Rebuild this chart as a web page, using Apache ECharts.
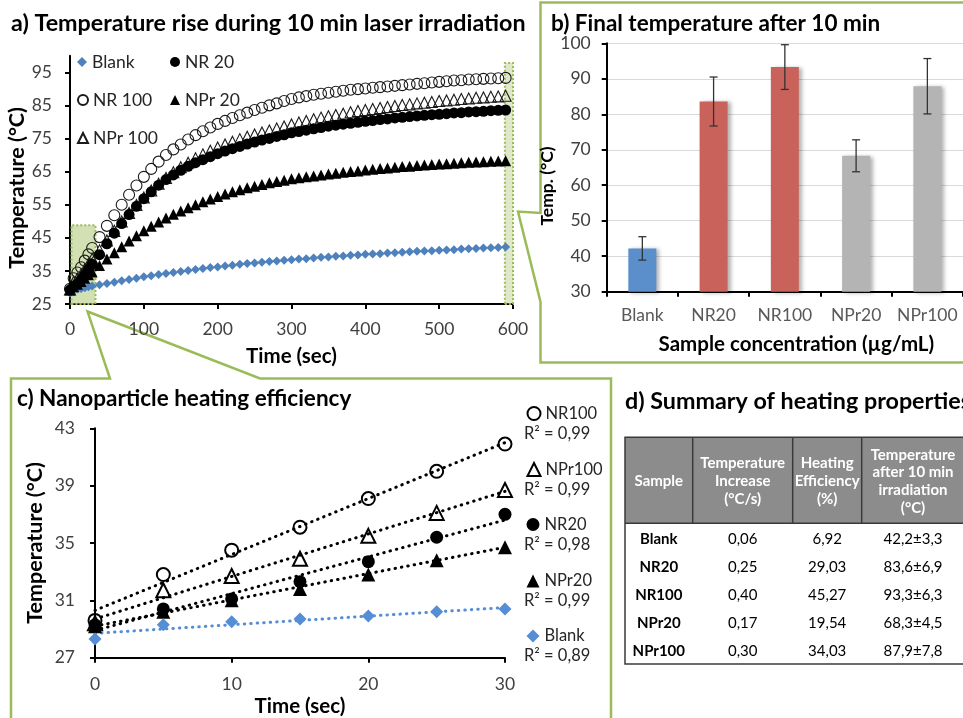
<!DOCTYPE html>
<html><head><meta charset="utf-8">
<script src="https://cdn.jsdelivr.net/npm/echarts@6/dist/echarts.min.js"></script>
<style>html,body{margin:0;padding:0;background:#fff}#c{width:963px;height:718px}</style>
</head><body><div id="c"></div>
<script>
// ---------- Panel a: temperature rise (sec, °C) ----------
const timeA = [0,5,10,15,20,25,30,40,50,60,70,80,90,100,110,120,130,140,150,160,170,180,190,200,210,220,230,240,250,260,270,280,290,300,310,320,330,340,350,360,370,380,390,400,410,420,430,440,450,460,470,480,490,500,510,520,530,540,550,560,570,580,590];
const blankA = [28.3,29.3,29.5,29.7,29.9,30.2,30.4,30.8,31.2,31.6,32.0,32.4,32.8,33.2,33.5,33.9,34.2,34.5,34.8,35.1,35.4,35.7,36.0,36.2,36.5,36.7,37.0,37.2,37.4,37.6,37.8,38.0,38.2,38.4,38.6,38.7,38.9,39.1,39.2,39.4,39.5,39.7,39.8,40.0,40.1,40.2,40.4,40.5,40.6,40.8,40.9,41.0,41.1,41.2,41.3,41.4,41.6,41.7,41.8,41.9,42.0,42.1,42.2];
const nr20A = [29.3,30.4,31.1,32.3,33.7,35.4,37.0,39.9,43.2,46.4,49.3,52.0,54.5,56.8,58.9,60.9,62.6,64.0,65.4,66.6,67.7,68.6,69.5,70.4,71.2,71.9,72.6,73.3,73.9,74.5,75.0,75.6,76.1,76.7,77.1,77.5,77.9,78.3,78.7,79.0,79.3,79.6,79.9,80.2,80.4,80.7,80.9,81.2,81.4,81.6,81.8,82.0,82.2,82.3,82.5,82.7,82.8,83.0,83.1,83.2,83.4,83.5,83.6];
const nr100A = [29.6,32.8,34.5,36.1,38.1,40.0,41.9,45.2,48.6,51.8,55.0,58.0,60.8,63.4,65.8,68.0,70.0,71.7,73.2,74.7,76.0,77.2,78.3,79.4,80.3,81.2,82.0,82.8,83.6,84.3,85.0,85.6,86.3,86.9,87.4,87.8,88.2,88.5,88.8,89.1,89.4,89.7,89.9,90.1,90.3,90.5,90.7,90.9,91.1,91.3,91.5,91.7,91.9,92.1,92.3,92.5,92.6,92.8,92.9,93.0,93.1,93.2,93.3];
const npr20A = [29.2,30.2,31.0,31.8,32.8,33.8,34.7,36.6,38.6,40.5,42.3,44.0,45.6,47.1,48.5,49.8,51.0,52.1,53.1,54.1,55.0,55.9,56.7,57.5,58.2,58.9,59.5,60.1,60.6,61.1,61.6,62.0,62.4,62.8,63.1,63.4,63.7,64.0,64.3,64.5,64.8,65.0,65.2,65.5,65.7,65.9,66.1,66.3,66.5,66.6,66.8,67.0,67.1,67.3,67.4,67.5,67.7,67.8,67.9,68.0,68.1,68.2,68.3];
const npr100A = [29.4,31.7,32.7,33.9,35.5,37.1,38.7,41.2,44.2,47.1,49.9,52.5,54.9,57.2,59.3,61.3,63.1,64.8,66.3,67.7,69.0,70.2,71.3,72.3,73.2,74.0,74.8,75.5,76.2,76.8,77.4,78.0,78.6,79.2,79.8,80.3,80.8,81.3,81.7,82.1,82.5,82.9,83.3,83.6,83.9,84.2,84.5,84.8,85.1,85.3,85.6,85.8,86.0,86.3,86.5,86.7,86.9,87.1,87.3,87.4,87.6,87.7,87.9];
const yTicksA = [25,35,45,55,65,75,85,95];

// ---------- Panel b: final temperature ----------
const samples = ['Blank','NR20','NR100','NPr20','NPr100'];
const finalTemp = [42.2,83.6,93.3,68.3,87.9];
const finalErr = [3.3,6.9,6.3,4.5,7.8];

// ---------- Panel c: first 30 s ----------
const timeC = [0,5,10,15,20,25,30];
const nr100C = [29.6,32.8,34.5,36.1,38.1,40.0,41.9];
const npr100C = [29.4,31.7,32.7,33.9,35.5,37.1,38.7];
const nr20C = [29.3,30.4,31.1,32.3,33.7,35.4,37.0];
const npr20C = [29.2,30.2,31.0,31.8,32.8,33.8,34.7];
const blankC = [28.3,29.3,29.5,29.7,29.9,30.2,30.4];
const trendNamesC = ['NR100','NPr100','NR20','NPr20','Blank'];
const trendStartC = [30.3,29.7,28.9,29.2,28.7];
const trendEndC = [42.0,38.6,36.6,34.7,30.5];
const r2C = ['0,99','0,99','0,98','0,99','0,89'];
const yTicksC = [27,31,35,39,43];

// ---------- Panel d: table ----------
const tableHeaders = ['Sample','Temperature\nIncrease\n(°C/s)','Heating\nEfficiency\n(%)','Temperature\nafter 10 min\nirradiation\n(°C)'];
const tableIncrease = ['0,06','0,25','0,40','0,17','0,30'];
const tableEfficiency = ['6,92','29,03','45,27','19,54','34,03'];

// ================= styling / layout =================
const FONT = 'Lato, "Noto Sans", sans-serif';
const GREEN = '#9bbb59';
const LBL = '#404040';
const chart = echarts.init(document.getElementById('c'), null, {renderer:'canvas', width:963, height:718});
const pairs = (xs, ys) => xs.map((x, i) => [x, ys[i]]);
const fmt = v => v.toFixed(1).replace('.', ',');

const axisLineStyle = {show:true, onZero:false, lineStyle:{color:'#000', width:2}};
const tickStyle = {show:true, length:5, lineStyle:{color:'#000', width:2}};
const nameStyleX = {fontSize:20.5, fontWeight:'bold', color:'#000', fontFamily:FONT};
const nameStyleY = {fontSize:21.5, fontWeight:'bold', color:'#000', fontFamily:FONT};
const labelStyle = {fontSize:17.5, color:LBL, fontFamily:FONT};

const open = {color:'rgba(0,0,0,0)', borderColor:'#1a1a1a', borderWidth:1.1, opacity:1};
const openC = {color:'rgba(0,0,0,0)', borderColor:'#000', borderWidth:2, opacity:1};

const aDefs = [
  {name:'Blank', d:blankA, sym:'diamond', size:9, style:{color:'#4f81bd', opacity:1}},
  {name:'NR 100', d:nr100A, sym:'circle', size:11, style:open},
  {name:'NPr 100', d:npr100A, sym:'triangle', size:11, style:open},
  {name:'NPr 20', d:npr20A, sym:'triangle', size:11, style:{color:'#000', opacity:1}},
  {name:'NR 20', d:nr20A, sym:'circle', size:11, style:{color:'#000', opacity:1}}
];
const cDefs = [
  {name:'c:NR100', d:nr100C, sym:'circle', size:13, style:openC},
  {name:'c:NPr100', d:npr100C, sym:'triangle', size:14, style:openC},
  {name:'c:NR20', d:nr20C, sym:'circle', size:13, style:{color:'#000', opacity:1}},
  {name:'c:NPr20', d:npr20C, sym:'triangle', size:14, style:{color:'#000', opacity:1}},
  {name:'c:Blank', d:blankC, sym:'diamond', size:13, style:{color:'#558ed5', opacity:1}}
];

const series = [];
aDefs.forEach(s => series.push({
  type:'scatter', name:s.name, xAxisIndex:0, yAxisIndex:0, data:pairs(timeA, s.d),
  symbol:s.sym, symbolSize:s.size, itemStyle:s.style, clip:false, silent:true
}));
// highlighted regions in panel a
series.push({
  type:'line', xAxisIndex:0, yAxisIndex:0, data:[], z:10, silent:true,
  markArea:{silent:true, itemStyle:{color:'rgba(155,187,89,0.45)', borderColor:GREEN, borderWidth:2, borderType:'dotted'},
    data:[
      [{coord:[2, 25]}, {coord:[34.5, 48.8]}],
      [{coord:[589, 25], itemStyle:{color:'rgba(155,187,89,0.32)'}}, {coord:[603, 97.8]}]
    ]}
});
// panel b bars
const barColors = ['#5b8fcb','#c9625b','#c9625b','#b4b4b4','#b4b4b4'];
series.push({
  type:'bar', xAxisIndex:1, yAxisIndex:1, barWidth:28, silent:true,
  data: finalTemp.map((v, i) => ({value:v, itemStyle:{color:barColors[i], shadowColor:'rgba(0,0,0,0.3)', shadowBlur:4, shadowOffsetX:3, shadowOffsetY:1}}))
});
series.push({
  type:'custom', xAxisIndex:1, yAxisIndex:1, silent:true, z:5,
  data: finalTemp.map((v, i) => [i, v - finalErr[i], v + finalErr[i]]),
  renderItem: (params, api) => {
    const lo = api.coord([api.value(0), api.value(1)]);
    const hi = api.coord([api.value(0), api.value(2)]);
    const st = {stroke:'#333', lineWidth:1.3};
    const w = 4;
    return {type:'group', children:[
      {type:'line', shape:{x1:lo[0], y1:lo[1], x2:hi[0], y2:hi[1]}, style:st},
      {type:'line', shape:{x1:lo[0]-w, y1:lo[1], x2:lo[0]+w, y2:lo[1]}, style:st},
      {type:'line', shape:{x1:hi[0]-w, y1:hi[1], x2:hi[0]+w, y2:hi[1]}, style:st}
    ]};
  }
});
// panel c trend lines (dotted)
trendNamesC.forEach((n, i) => series.push({
  type:'line', xAxisIndex:2, yAxisIndex:2, silent:true, symbol:'none', z:1,
  data:[[timeC[0], trendStartC[i]], [timeC[timeC.length-1], trendEndC[i]]],
  lineStyle:{color: n === 'Blank' ? '#558ed5' : '#000', width:3, type:[0.5, 6], cap:'round'}
}));
cDefs.forEach(s => series.push({
  type:'scatter', name:s.name, xAxisIndex:2, yAxisIndex:2, data:pairs(timeC, s.d),
  symbol:s.sym, symbolSize:s.size, itemStyle:s.style, clip:false, silent:true, z:3
}));

// legends
const legendOf = (name, left, cy, size, fs) => ({
  data:[name], left, top:cy - 10, padding:0, itemGap:0, itemWidth:size, itemHeight:size,
  selectedMode:false, formatter: n => n.replace('c:', ''),
  textStyle:{fontSize:fs, color:'#262626', fontFamily:FONT}
});
const legends = [
  legendOf('Blank', 77, 63, 10, 17.5), legendOf('NR 20', 170, 63, 10, 17.5),
  legendOf('NR 100', 77, 101, 10, 17.5), legendOf('NPr 20', 170, 101, 10, 17.5),
  legendOf('NPr 100', 77, 139, 10, 17.5)
];
const legendYC = [415, 471, 526, 582.5, 637.5];
cDefs.forEach((s, i) => legends.push(legendOf(s.name, 526.5, legendYC[i], 13, 16.5)));

// graphics: frames, R² labels, table
const graphics = [];
graphics.push({type:'polyline', silent:true, shape:{points:[[966,2.5],[540.5,2.5],[540.5,213],[518,211.5],[540.5,302],[540.5,362.5],[966,362.5]]}, style:{stroke:GREEN, lineWidth:2.5, fill:null}});
graphics.push({type:'polyline', silent:true, shape:{points:[[11,720],[11,378.5],[110,378.5],[87.5,311.5],[260,378.5],[611,378.5],[611,720]]}, style:{stroke:GREEN, lineWidth:2.5, fill:null}});
legendYC.forEach((y, i) => graphics.push({type:'text', silent:true, x:524, y:y + 18.5, style:{text:'R² = ' + r2C[i], fontSize:16.5, fontFamily:FONT, fill:'#262626', verticalAlign:'middle'}}));

const colX = [625, 692.7, 792.7, 861.7, 965];
const colC = [658.8, 742.7, 827.2, 913];
const rowY = [539.3, 567.3, 595, 623.3, 650.7];
const tTop = 437.3, tHead = 523.3, tBot = 664;
graphics.push({type:'rect', silent:true, shape:{x:colX[0], y:tTop, width:colX[4]-colX[0], height:tHead-tTop}, style:{fill:'#8c8c8c'}});
for (let k = 1; k < 4; k++) graphics.push({type:'line', silent:true, shape:{x1:colX[k], y1:tTop, x2:colX[k], y2:tHead}, style:{stroke:'#3a3a3a', lineWidth:1.5}});
graphics.push({type:'line', silent:true, shape:{x1:colX[0], y1:tHead, x2:colX[4], y2:tHead}, style:{stroke:'#3a3a3a', lineWidth:1.5}});
graphics.push({type:'rect', silent:true, shape:{x:colX[0], y:tTop, width:colX[4]-colX[0], height:tBot-tTop}, style:{fill:null, stroke:'#3a3a3a', lineWidth:1.5}});
tableHeaders.forEach((h, k) => graphics.push({type:'text', silent:true, x:colC[k], y:(tTop+tHead)/2 + 1, style:{text:h, fontSize:15, fontWeight:'bold', fontFamily:FONT, fill:'#fff', align:'center', verticalAlign:'middle', lineHeight:17.7}}));
samples.forEach((s, r) => {
  const cells = [s, tableIncrease[r], tableEfficiency[r], fmt(finalTemp[r]) + '±' + fmt(finalErr[r])];
  cells.forEach((t, k) => graphics.push({type:'text', silent:true, x:colC[k], y:rowY[r], style:{text:t, fontSize:15, fontWeight:k === 0 ? 'bold' : 'normal', fontFamily:FONT, fill:'#000', align:'center', verticalAlign:'middle'}}));
});

const titleStyle = {fontSize:22.5, fontWeight:'bold', color:'#000', fontFamily:FONT};
const option = {
  animation:false,
  backgroundColor:'#fff',
  title:[
    {text:'a) Temperature rise during 10 min laser irradiation', left:11, top:12, padding:0, textStyle:Object.assign({}, titleStyle, {fontSize:23.3})},
    {text:'b) Final temperature after 10 min', left:551, top:12, padding:0, textStyle:titleStyle},
    {text:'c) Nanoparticle heating efficiency', left:17, top:387, padding:0, textStyle:titleStyle},
    {text:'d) Summary of heating properties', left:625, top:390, padding:0, textStyle:Object.assign({}, titleStyle, {fontSize:23.3})}
  ],
  legend: legends,
  grid:[
    {left:70, top:55.7, width:443, height:248.3},
    {left:606.7, top:43.3, width:356.6, height:248.4},
    {left:95, top:428.3, width:410, height:229.4}
  ],
  xAxis:[
    {gridIndex:0, type:'value', min:0, max:600, interval:100, axisLine:axisLineStyle, axisTick:tickStyle,
     axisLabel:Object.assign({margin:16}, labelStyle), splitLine:{show:false},
     name:'Time (sec)', nameLocation:'middle', nameGap:42, nameTextStyle:nameStyleX},
    {gridIndex:1, type:'category', data:samples, axisLine:axisLineStyle, axisTick:tickStyle,
     axisLabel:Object.assign({margin:15, interval:0}, labelStyle, {color:'#595959'}), splitLine:{show:false},
     name:'Sample concentration (µg/mL)', nameLocation:'middle', nameGap:42, nameTextStyle:Object.assign({padding:[0,0,0,23]}, nameStyleX)},
    {gridIndex:2, type:'value', min:0, max:30, interval:10, axisLine:axisLineStyle, axisTick:tickStyle,
     axisLabel:Object.assign({margin:18}, labelStyle), splitLine:{show:false},
     name:'Time (sec)', nameLocation:'middle', nameGap:38, nameTextStyle:nameStyleX}
  ],
  yAxis:[
    {gridIndex:0, type:'value', min:25, max:100, axisLine:axisLineStyle,
     axisTick:Object.assign({customValues:yTicksA}, tickStyle),
     axisLabel:Object.assign({margin:18, customValues:yTicksA}, labelStyle), splitLine:{show:false},
     name:'Temperature (°C)', nameLocation:'middle', nameGap:37, nameTextStyle:Object.assign({padding:[0,16,0,0]}, nameStyleY)},
    {gridIndex:1, type:'value', min:30, max:100, interval:10, axisLine:axisLineStyle, axisTick:tickStyle,
     axisLabel:Object.assign({margin:16}, labelStyle), splitLine:{show:true, lineStyle:{color:'#d9d9d9', width:1}},
     name:'Temp. (°C)', nameLocation:'middle', nameGap:42, nameTextStyle:Object.assign({padding:[0,37,0,0]}, nameStyleY, {fontSize:17.5})},
    {gridIndex:2, type:'value', min:27, max:43, axisLine:axisLineStyle,
     axisTick:Object.assign({customValues:yTicksC}, tickStyle),
     axisLabel:Object.assign({margin:20, customValues:yTicksC}, labelStyle), splitLine:{show:false},
     name:'Temperature (°C)', nameLocation:'middle', nameGap:49, nameTextStyle:nameStyleY}
  ],
  series,
  graphic: graphics
};
chart.setOption(option);
</script></body></html>
